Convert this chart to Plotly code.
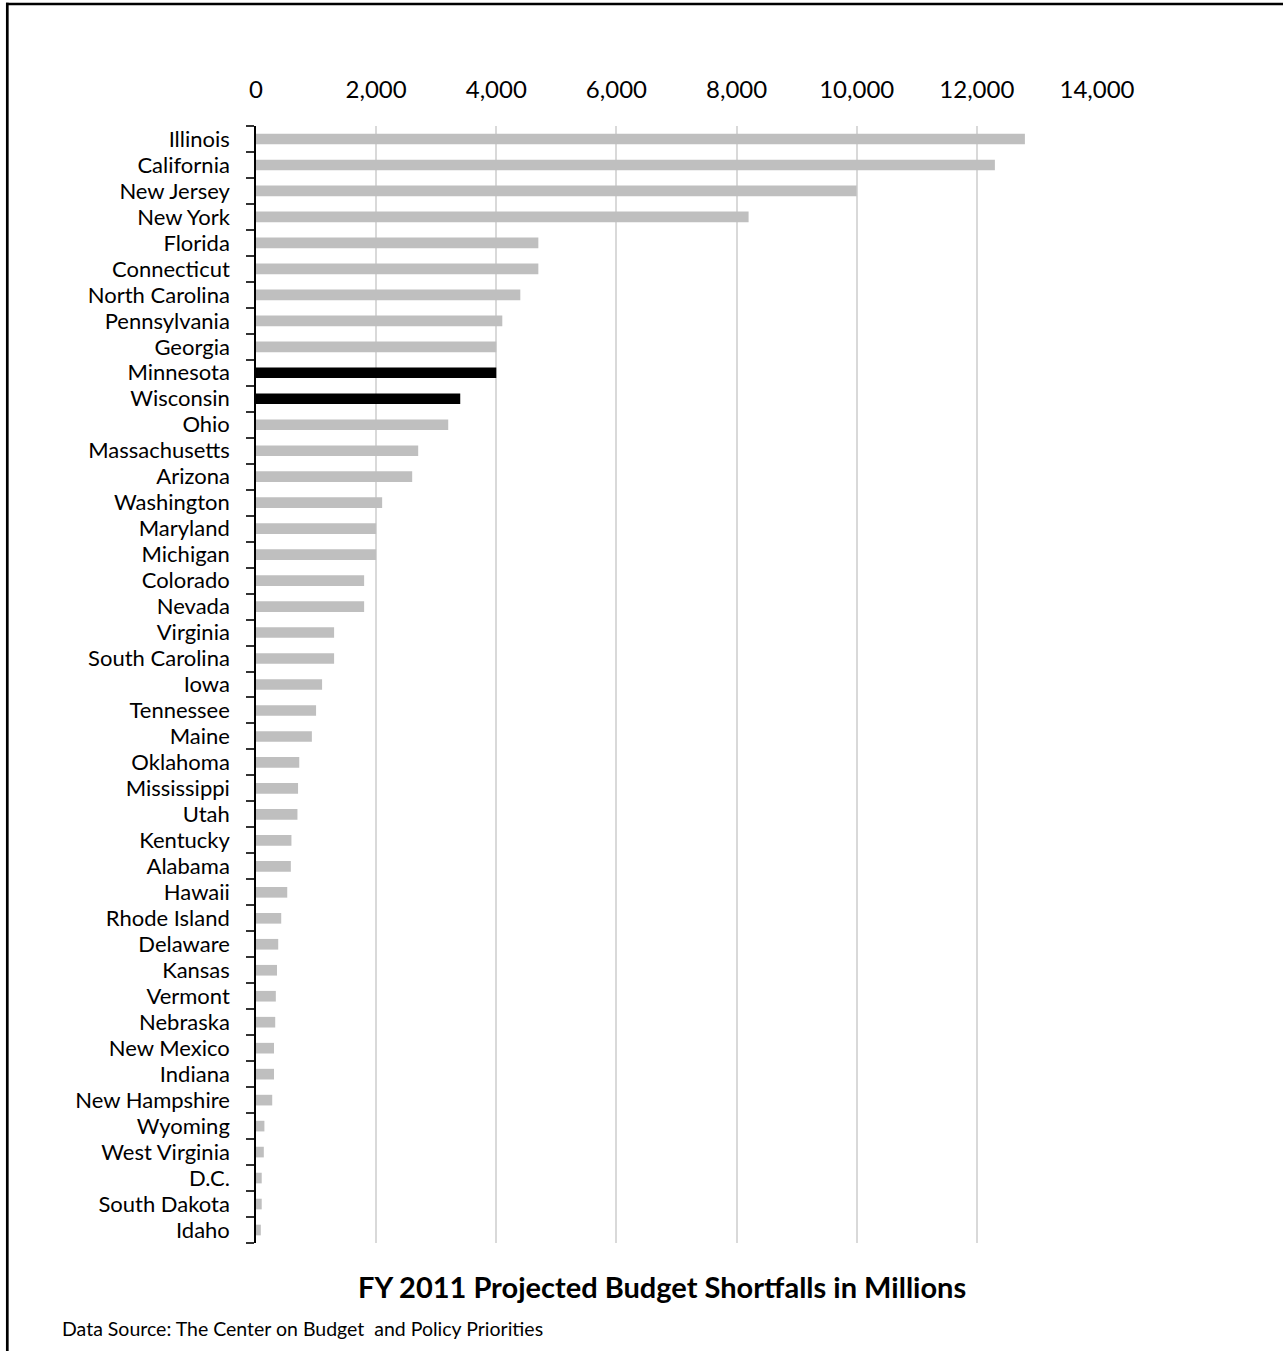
import plotly.graph_objects as go

# FY 2011 projected budget shortfalls by state (millions of dollars)
states = [
    "Illinois", "California", "New Jersey", "New York", "Florida", "Connecticut",
    "North Carolina", "Pennsylvania", "Georgia", "Minnesota", "Wisconsin", "Ohio",
    "Massachusetts", "Arizona", "Washington", "Maryland", "Michigan", "Colorado",
    "Nevada", "Virginia", "South Carolina", "Iowa", "Tennessee", "Maine",
    "Oklahoma", "Mississippi", "Utah", "Kentucky", "Alabama", "Hawaii",
    "Rhode Island", "Delaware", "Kansas", "Vermont", "Nebraska", "New Mexico",
    "Indiana", "New Hampshire", "Wyoming", "West Virginia", "D.C.",
    "South Dakota", "Idaho",
]
shortfalls = [
    12800, 12300, 10000, 8200, 4700, 4700,
    4400, 4100, 4000, 4000, 3400, 3200,
    2700, 2600, 2100, 2000, 2000, 1800,
    1800, 1300, 1300, 1100, 1000, 930,
    720, 700, 690, 590, 580, 520,
    420, 370, 350, 330, 320, 300,
    300, 270, 140, 130, 95,
    95, 80,
]
highlighted = ["Minnesota", "Wisconsin"]
x_ticks = [0, 2000, 4000, 6000, 8000, 10000, 12000, 14000]

FONT = "Lato, 'Open Sans', sans-serif"
W, H = 1283, 1351
ML, MR, MT, MB = 256, 186, 126, 108
PW, PH = W - ML - MR, H - MT - MB


def px_x(px):
    return (px - ML) / PW


def px_y(py):
    return (H - MB - py) / PH


colors = ["#000000" if s in highlighted else "#BFBFBF" for s in states]

fig = go.Figure(
    go.Bar(
        x=shortfalls,
        y=states,
        orientation="h",
        marker=dict(color=colors, line=dict(width=0)),
        hoverinfo="x+y",
    )
)

fig.update_layout(
    width=W,
    height=H,
    margin=dict(l=ML, r=MR, t=MT, b=MB),
    paper_bgcolor="white",
    plot_bgcolor="white",
    bargap=0.59,
    showlegend=False,
    font=dict(family=FONT, size=22, color="#000000"),
    xaxis=dict(
        side="top",
        range=[0, 14000],
        tickvals=x_ticks,
        tickformat=",d",
        showgrid=True,
        gridcolor="#D9D9D9",
        gridwidth=1.5,
        zeroline=False,
        showline=False,
        ticks="",
        ticklabelstandoff=22,
        tickfont=dict(family=FONT, size=24),
    ),
    yaxis=dict(
        type="category",
        categoryorder="array",
        categoryarray=states,
        autorange="reversed",
        tickmode="array",
        tickvals=states,
        ticktext=states,
        showgrid=False,
        zeroline=False,
        showline=True,
        linecolor="#000000",
        linewidth=1.5,
        ticks="outside",
        tickson="boundaries",
        ticklen=8,
        tickwidth=1.5,
        tickcolor="#333333",
        ticklabelstandoff=20,
        tickfont=dict(family=FONT, size=22),
    ),
    annotations=[
        dict(
            text="<b>FY 2011 Projected Budget Shortfalls in Millions</b>",
            xref="paper", yref="paper",
            x=px_x(662), y=px_y(1286),
            xanchor="center", yanchor="middle",
            showarrow=False,
            font=dict(family=FONT, size=29, color="#000000"),
        ),
        dict(
            text="Data Source: The Center on Budget \u00a0and Policy Priorities",
            xref="paper", yref="paper",
            x=px_x(60), y=px_y(1328),
            xanchor="left", yanchor="middle",
            showarrow=False,
            font=dict(family=FONT, size=19.5, color="#000000"),
        ),
    ],
    shapes=[
        # chart frame: left and top edges
        dict(type="line", xref="paper", yref="paper",
             x0=px_x(7.3), x1=px_x(7.3), y0=px_y(2.7), y1=px_y(H + 2),
             line=dict(color="#000000", width=2.7)),
        dict(type="line", xref="paper", yref="paper",
             x0=px_x(6), x1=px_x(W + 2), y0=px_y(4), y1=px_y(4),
             line=dict(color="#000000", width=2.7)),
    ],
)

fig.write_html("out.html")
